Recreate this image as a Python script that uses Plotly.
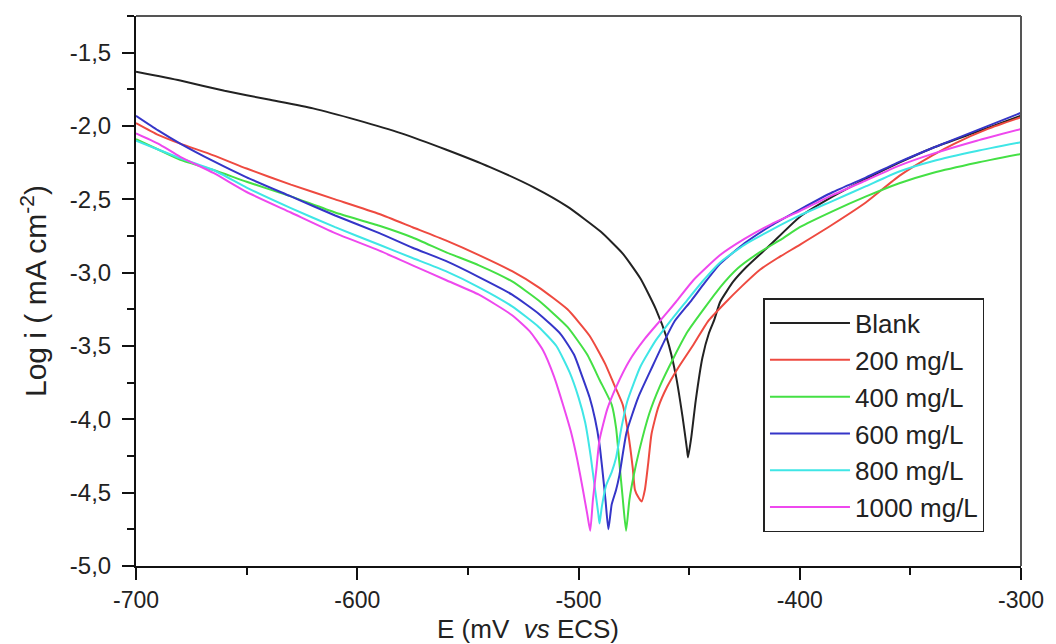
import plotly.graph_objects as go

# ---------------- data ----------------
series_names = ["Blank", "200 mg/L", "400 mg/L", "600 mg/L", "800 mg/L", "1000 mg/L"]
series_colors = ["#222222", "#ee4a40", "#44e044", "#3535c8", "#3fe6e6", "#ee48ee"]

blank_E = [-700, -680, -660, -640, -620, -600, -580, -560, -540, -520, -505, -490, -480, -472,
           -465, -460, -456, -453, -451, -450.5, -449, -447, -444, -441, -438.6, -436, -430,
           -424, -414, -400, -385, -370, -355, -340, -320, -300]
blank_logi = [-1.63, -1.69, -1.76, -1.82, -1.88, -1.96, -2.05, -2.16, -2.28, -2.42, -2.55, -2.72,
              -2.87, -3.04, -3.25, -3.45, -3.70, -3.98, -4.20, -4.26, -4.12, -3.87, -3.58, -3.41,
              -3.32, -3.20, -3.06, -2.96, -2.82, -2.62, -2.48, -2.36, -2.25, -2.15, -2.04, -1.93]

c200_E = [-700, -690, -680, -665, -650, -630, -610, -590, -575, -560, -545, -530, -518, -505, -495,
          -488, -484, -480, -477.5, -475.5, -474.5, -473, -471.5, -470, -468.5, -467, -464, -460,
          -455, -448, -441.4, -434, -426, -418, -410, -400, -385, -370, -355, -340, -330, -315, -300]
c200_logi = [-1.98, -2.06, -2.12, -2.20, -2.29, -2.40, -2.50, -2.60, -2.69, -2.78, -2.88, -2.99,
             -3.10, -3.25, -3.43, -3.62, -3.76, -3.90, -4.10, -4.33, -4.48, -4.53, -4.56, -4.48,
             -4.30, -4.10, -3.92, -3.78, -3.65, -3.49, -3.33, -3.21, -3.09, -2.98, -2.90, -2.81,
             -2.67, -2.52, -2.34, -2.20, -2.12, -2.02, -1.94]

c400_E = [-700, -690, -680, -665, -650, -630, -610, -590, -575, -560, -545, -530, -518, -505, -496,
          -490.5, -485, -483, -481.5, -480, -478.5, -477, -475, -472.5, -468, -463.4, -457, -450.6,
          -443, -436, -428, -418, -408, -400, -385, -370, -355, -340, -320, -300]
c400_logi = [-2.09, -2.16, -2.23, -2.30, -2.38, -2.48, -2.59, -2.68, -2.76, -2.86, -2.95, -3.06,
             -3.19, -3.37, -3.56, -3.73, -3.90, -4.06, -4.30, -4.54, -4.76, -4.55, -4.38, -4.21,
             -3.96, -3.78, -3.58, -3.40, -3.24, -3.10, -2.97, -2.86, -2.77, -2.69, -2.58, -2.48,
             -2.39, -2.32, -2.25, -2.19]

c600_E = [-700, -690, -680, -665, -650, -630, -610, -590, -575, -560, -545, -530, -518, -508, -502,
          -498.5, -495, -492.5, -490.5, -489.3, -487.8, -486.5, -485, -483, -481.5, -478.3, -473,
          -466.6, -461, -456.5, -449, -443, -436, -425, -413, -400, -385, -370, -355, -340, -320, -300]
c600_logi = [-1.93, -2.03, -2.12, -2.24, -2.35, -2.48, -2.61, -2.73, -2.83, -2.92, -3.03, -3.15,
             -3.28, -3.42, -3.56, -3.70, -3.85, -4.00, -4.17, -4.33, -4.55, -4.75, -4.58, -4.48,
             -4.38, -4.09, -3.85, -3.64, -3.46, -3.33, -3.19, -3.07, -2.94, -2.80, -2.68, -2.57,
             -2.45, -2.35, -2.245, -2.15, -2.03, -1.91]

c800_E = [-700, -690, -680, -665, -650, -630, -610, -590, -575, -560, -545, -530, -518, -510, -504,
          -500, -497, -494.5, -492.5, -491, -490.5, -489.5, -487.5, -485, -483, -480.5, -478, -472,
          -465, -458.5, -451, -444, -436, -425, -413, -400, -385, -370, -355, -340, -320, -300]
c800_logi = [-2.10, -2.16, -2.22, -2.30, -2.42, -2.56, -2.69, -2.81, -2.90, -2.99, -3.10, -3.23,
             -3.37, -3.50, -3.68, -3.85, -4.02, -4.25, -4.48, -4.65, -4.71, -4.60, -4.45, -4.36,
             -4.26, -4.05, -3.88, -3.64, -3.46, -3.33, -3.19, -3.06, -2.93, -2.81, -2.71, -2.61,
             -2.51, -2.41, -2.31, -2.24, -2.17, -2.11]

c1000_E = [-700, -690, -680, -665, -650, -630, -610, -590, -575, -560, -545, -530, -522, -516,
           -511, -507, -503.5, -500.5, -498, -496, -494.7, -493.5, -492, -490.5, -487, -483, -477,
           -470, -462.7, -456, -448, -436, -425, -413, -400, -385, -370, -355, -340, -320, -300]
c1000_logi = [-2.05, -2.12, -2.21, -2.32, -2.45, -2.59, -2.73, -2.85, -2.95, -3.05, -3.15, -3.29,
              -3.40, -3.53, -3.71, -3.90, -4.08, -4.28, -4.48, -4.65, -4.76, -4.55, -4.35, -4.14,
              -3.93, -3.78, -3.60, -3.45, -3.32, -3.20, -3.05, -2.88, -2.77, -2.67, -2.58, -2.47,
              -2.37, -2.27, -2.19, -2.10, -2.02]

x_tickvals = [-700, -600, -500, -400, -300]
x_ticktext = ["-700", "-600", "-500", "-400", "-300"]
y_tickvals = [-5.0, -4.5, -4.0, -3.5, -3.0, -2.5, -2.0, -1.5]
y_ticktext = ["-5,0", "-4,5", "-4,0", "-3,5", "-3,0", "-2,5", "-2,0", "-1,5"]

x_title = "E (mV  <i>vs</i> ECS)"
y_title = "Log i ( mA cm<sup>-2</sup>)"

# ---------------- figure ----------------
FONT = "Liberation Sans, Arial, Helvetica, sans-serif"
series_E = [blank_E, c200_E, c400_E, c600_E, c800_E, c1000_E]
series_logi = [blank_logi, c200_logi, c400_logi, c600_logi, c800_logi, c1000_logi]

fig = go.Figure()
for name, color, xs, ys in zip(series_names, series_colors, series_E, series_logi):
    fig.add_trace(go.Scatter(x=xs, y=ys, mode="lines", name=name,
                             line=dict(color=color, width=2, shape="spline", smoothing=0.5)))

fig.update_layout(
    width=1056, height=644,
    margin=dict(l=136, r=31, t=16, b=78),
    paper_bgcolor="white", plot_bgcolor="white",
    font=dict(family=FONT, color="#222222", size=22),
    showlegend=True,
    legend=dict(
        x=0.709, y=0.487, xanchor="left", yanchor="top",
        bgcolor="white", bordercolor="#222222", borderwidth=1.5,
        font=dict(family=FONT, size=26, color="#222222"),
        itemwidth=80, tracegroupgap=0,
    ),
)

fig.update_xaxes(
    range=[-700, -300], showgrid=False, zeroline=False,
    showline=True, linecolor="#111111", linewidth=2,
    ticks="outside", ticklen=12, tickwidth=2, tickcolor="#111111",
    tickmode="array", tickvals=x_tickvals, ticktext=x_ticktext,
    tickfont=dict(family=FONT, size=23, color="#222222"),
    minor=dict(tickmode="linear", tick0=-700, dtick=50, ticks="outside",
               ticklen=7, tickwidth=2, tickcolor="#111111"),
)
fig.update_yaxes(
    range=[-5.0, -1.25], showgrid=False, zeroline=False,
    showline=True, linecolor="#111111", linewidth=2,
    ticks="outside", ticklen=12, tickwidth=2, tickcolor="#111111",
    tickmode="array", tickvals=y_tickvals, ticktext=y_ticktext,
    tickfont=dict(family=FONT, size=24, color="#222222"),
    ticklabelstandoff=6,
    minor=dict(tickmode="linear", tick0=-5.0, dtick=0.25, ticks="outside",
               ticklen=7, tickwidth=2, tickcolor="#111111"),
    title=dict(text=y_title, font=dict(family=FONT, size=30, color="#222222"), standoff=14),
)

# top and right frame lines (grey, as in the reference)
fig.add_shape(type="line", xref="paper", yref="paper", x0=0, x1=1, y0=1, y1=1,
              line=dict(color="#555555", width=2))
fig.add_shape(type="line", xref="paper", yref="paper", x0=1, x1=1, y0=0, y1=1,
              line=dict(color="#555555", width=2))

# x-axis title (placed as in the reference, slightly left of centre)
fig.add_annotation(text=x_title, xref="paper", yref="paper", x=0.443, y=-0.084,
                   xanchor="center", yanchor="top", showarrow=False,
                   font=dict(family=FONT, size=26, color="#222222"))

fig.write_html(
    "out.html",
    config={"displayModeBar": False},
    post_script="document.body.style.margin='0';document.body.style.overflow='hidden';",
)
